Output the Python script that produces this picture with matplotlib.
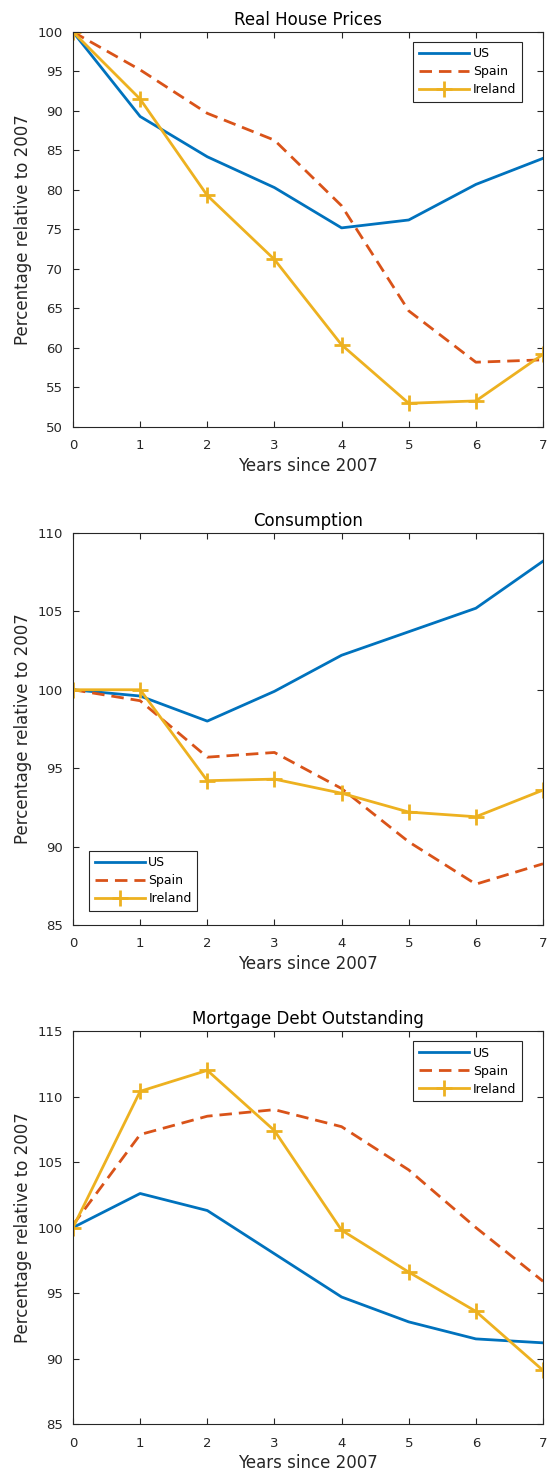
import matplotlib.pyplot as plt
import numpy as np

plt.rcParams['font.family'] = ['DejaVu Sans']

years = np.arange(0, 8)

house_us = [100, 89.3, 84.2, 80.3, 75.2, 76.2, 80.7, 84.0]
house_spain = [100, 95.2, 89.7, 86.3, 78.0, 64.7, 58.2, 58.5]
house_ireland = [100, 91.5, 79.3, 71.2, 60.4, 53.0, 53.3, 59.2]

cons_us = [100, 99.6, 98.0, 99.9, 102.2, 103.7, 105.2, 108.2]
cons_spain = [100, 99.3, 95.7, 96.0, 93.7, 90.3, 87.6, 88.9]
cons_ireland = [100, 100, 94.2, 94.3, 93.4, 92.2, 91.9, 93.6]

debt_us = [100, 102.6, 101.3, 98.0, 94.7, 92.8, 91.5, 91.2]
debt_spain = [100.2, 107.1, 108.5, 109.0, 107.7, 104.4, 100.0, 95.9]
debt_ireland = [100, 110.4, 112.0, 107.4, 99.8, 96.6, 93.6, 89.1]

titles = ['Real House Prices', 'Consumption', 'Mortgage Debt Outstanding']
ylims = [(50, 100), (85, 110), (85, 115)]

c_us = '#0072BD'
c_spain = '#D95319'
c_ireland = '#EDB120'
grey = '#262626'

fig = plt.figure(figsize=(5.48, 14.78), dpi=100)
positions = [
    [0.1332, 0.7111, 0.8577, 0.2673],
    [0.1332, 0.3742, 0.8577, 0.2652],
    [0.1332, 0.0365, 0.8577, 0.2659],
]

data = [
    (house_us, house_spain, house_ireland),
    (cons_us, cons_spain, cons_ireland),
    (debt_us, debt_spain, debt_ireland),
]

for i in range(3):
    ax = fig.add_axes(positions[i])
    us, spain, ireland = data[i]
    ax.plot(years, us, color=c_us, linewidth=2, label='US')
    ax.plot(years, spain, color=c_spain, linewidth=2, linestyle=(0, (4.5, 2.5)), label='Spain')
    ax.plot(years, ireland, color=c_ireland, linewidth=2, marker='+',
            markersize=11, markeredgewidth=2, label='Ireland')
    ax.set_xlim(0, 7)
    ax.set_ylim(*ylims[i])
    ax.set_xticks(years)
    ax.set_yticks(np.arange(ylims[i][0], ylims[i][1] + 1, 5))
    ax.tick_params(direction='in', top=True, right=True, labelsize=9.5,
                   colors=grey, length=4, width=0.8)
    ax.tick_params(axis='x', pad=9)
    ax.tick_params(axis='y', pad=7.5)
    for sp in ax.spines.values():
        sp.set_color(grey)
        sp.set_linewidth(0.8)
    ax.set_title(titles[i], fontsize=12, pad=5)
    ax.set_xlabel('Years since 2007', fontsize=12, color=grey, labelpad=3)
    ax.set_ylabel('Percentage relative to 2007', fontsize=12, color=grey, labelpad=4)

    # legend sits top right except in the consumption panel
    if i == 1:
        loc = 'lower left'
        anchor = (0.034, 0.036)
    else:
        loc = 'upper right'
        anchor = (0.955, 0.975)
    leg = ax.legend(loc=loc, bbox_to_anchor=anchor, borderaxespad=0, fontsize=9,
                    handlelength=4.0, fancybox=False, framealpha=1,
                    edgecolor=grey, borderpad=0.45, labelspacing=0.4,
                    handletextpad=0.3)
    leg.get_frame().set_linewidth(0.8)

fig.savefig('out.png', dpi=100)
